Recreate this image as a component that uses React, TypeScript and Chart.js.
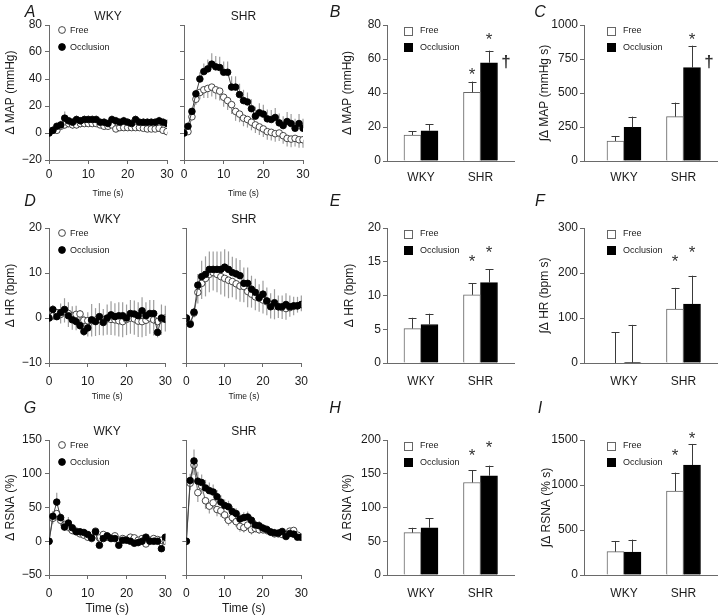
import React, { useEffect, useRef } from "react";
import { Chart, registerables } from "chart.js";

Chart.register(...registerables);

const FONT = "'Liberation Sans', Arial, Helvetica, sans-serif";
const AXIS_COLOR = "#6a6a6a";
const TEXT_COLOR = "#1a1a1a";
const ERR_GREY = "#9d9d9d";
const PAD_T = 26;
const PAD_R = 12;
const TICK_SIZE = 12;

// ---------- categories ----------
const TIME = [0, 1, 2, 3, 4, 5, 6, 7, 8, 9, 10, 11, 12, 13, 14, 15, 16, 17, 18, 19, 20, 21, 22, 23, 24, 25, 26, 27, 28, 29, 30];
const GROUPS = ["WKY", "SHR"];
const SERIES = ["Free", "Occlusion"];

// ---------- A: ΔMAP time course ----------
const MAP_WKY_FREE = [0, 2, 2, 5, 6, 7, 6, 6, 7, 7, 7, 7, 7, 6, 5, 5, 6, 3, 4, 4, 4, 4, 4, 4, 3.5, 3, 3, 3, 3.5, 2, 1];
const MAP_WKY_FREE_ERR = [0, 1, 2, 2, 3, 3, 3, 3, 3, 2, 2, 2, 2, 2, 2, 2, 2, 2, 2, 2, 2, 2, 2, 2, 2, 2, 2, 2, 2, 2, 2];
const MAP_WKY_OCC = [0, 2, 5, 6, 11, 9, 8, 10, 9, 10, 10, 10, 10, 8, 8, 7, 10, 9, 8, 9, 8, 7, 10, 8, 8, 8, 8, 8, 9, 8, 7];
const MAP_WKY_OCC_ERR = [0, 1, 2, 3, 5, 3, 3, 3, 3, 3, 3, 3, 3, 3, 3, 3, 3, 3, 3, 3, 3, 3, 3, 3, 3, 3, 3, 3, 3, 3, 3];
const MAP_SHR_FREE = [0, 1, 12, 25, 30, 32, 33, 34, 32, 31, 26.5, 24, 21, 16, 14, 11, 10, 8, 6, 4.5, 3, 1, 0.5, -0.5, 0, -2, -4, -4.5, -4, -5, -5];
const MAP_SHR_FREE_ERR = [0, 1, 2, 4, 5, 6, 7, 7, 7, 7, 7, 7, 7, 7, 6, 6, 6, 6, 6, 6, 6, 6, 6, 6, 6, 6, 6, 6, 6, 6, 6];
const MAP_SHR_OCC = [0, 5, 16, 29, 40, 45.5, 47.5, 51, 49, 48.5, 45, 45, 34, 34, 28.5, 24, 23, 18, 12.5, 15, 14, 10.5, 10, 11.5, 7.5, 5.5, 8.5, 7, 3.5, 7, 3.5];
const MAP_SHR_OCC_ERR = [0, 1, 2, 3, 5, 6, 7, 8, 8, 8, 8, 8, 8, 8, 8, 8, 7, 7, 7, 7, 7, 7, 7, 7, 7, 7, 7, 7, 7, 7, 7];

// ---------- D: ΔHR time course ----------
const HR_WKY_FREE = [0, 0.5, 1.2, 0.8, 1.5, 1.0, 0.4, 0.8, 0.9, -0.5, -0.6, -0.6, -0.5, -0.3, -0.4, -0.2, -0.3, -0.4, -0.6, -0.8, -0.3, 0, -0.2, -0.7, -0.8, -0.5, 0, -0.4, -0.8, -0.2, 0];
const HR_WKY_FREE_ERR = [0, 1, 1.5, 2, 2.5, 3, 3, 3.5, 3.5, 3.5, 3.5, 3.5, 3.5, 3.5, 3.5, 3.5, 3.5, 3.5, 3.5, 3.5, 3.5, 3.5, 3.5, 3.5, 3.5, 3.5, 3.5, 3.5, 3.5, 3.5, 3];
const HR_WKY_OCC = [0, 1.9, 0.3, 1.2, 1.9, 0.5, -0.4, -0.8, -1.7, -3.0, -2.2, -0.4, -0.8, 0.3, -1.0, 0, 0.7, 0.3, 0.5, 0.5, 0, 1.0, 0.9, 0.5, 1.6, 0.5, 1, 1, -3.2, 0, -0.3];
const HR_WKY_OCC_ERR = [0, 1, 1.5, 2, 2.5, 3, 3, 3.5, 3.5, 3.5, 3.5, 3.5, 3, 3, 3, 3, 3, 3, 3, 3, 3, 3, 3, 3, 3, 3, 3, 3, 3, 3, 3];
const HR_SHR_FREE = [0, -1.2, 1.1, 5.7, 7.7, 8.8, 9.7, 10.1, 9.7, 9.2, 8.8, 8.4, 8.1, 7.6, 7.1, 7.0, 5.9, 5.3, 4.7, 4.4, 4.0, 3.6, 2.9, 2.7, 2.5, 2.3, 2.1, 2.3, 2.6, 2.7, 3.0];
const HR_SHR_FREE_ERR = [0, 0.5, 1, 2.5, 3.5, 4, 4, 4, 4, 4, 4, 4, 3.5, 3.5, 3.5, 3.5, 3.5, 3, 3, 3, 3, 3, 3, 3, 2.5, 2.5, 2.5, 2, 2, 1.5, 1.5];
const HR_SHR_OCC = [0, -1.4, 1.3, 7.3, 9.2, 9.7, 10.8, 10.8, 10.8, 10.8, 11.3, 10.8, 10.1, 9.8, 9.4, 7.7, 7.7, 6.4, 5.7, 4.5, 5.3, 3.8, 2.5, 3.4, 2.5, 2.5, 3.0, 2.5, 2.7, 2.7, 3.0];
const HR_SHR_OCC_ERR = [0, 0.5, 1, 2.5, 3.5, 4, 4, 4, 4, 4, 4, 4, 3.5, 3.5, 3.5, 3.5, 3.5, 3, 3, 3, 3, 3, 3, 3, 2.5, 2.5, 2.5, 2.5, 2, 2, 2];

// ---------- G: ΔRSNA time course ----------
const RSNA_WKY_FREE = [0, 34, 41, 31, 24, 21, 16, 15, 11, 9, 6, 4, 15, 5, 10, 6, 5, 8, 1.5, 4, 2.5, 6, 5, 1.5, 4, -4, 1.5, 4, 2.5, 1.5, 0];
const RSNA_WKY_FREE_ERR = [0, 8, 10, 8, 8, 7, 6, 6, 5, 5, 5, 5, 4, 4, 4, 4, 4, 4, 4, 4, 4, 4, 4, 4, 4, 4, 4, 4, 4, 4, 4];
const RSNA_WKY_OCC = [0, 37, 58, 35, 21, 27, 20, 14, 14, 13, 10, 5, 14, -6, 4, 8, 4, 4, -6, 1.5, 1.5, 0, -3, -2, 0, 6, 0, 0, 0, -11, 6];
const RSNA_WKY_OCC_ERR = [0, 8, 14, 6, 6, 9, 5, 5, 5, 5, 5, 5, 5, 5, 5, 5, 5, 5, 5, 5, 5, 5, 5, 5, 5, 5, 5, 5, 5, 5, 5];
const RSNA_SHR_FREE = [0, 86, 113, 72, 82, 60, 52, 57, 47, 45, 39, 31, 35, 29, 22, 20, 24, 17, 19, 17, 17, 16, 14, 11, 11, 10, 10, 15, 16, 9, 6];
const RSNA_SHR_FREE_ERR = [0, 10, 15, 14, 12, 12, 11, 10, 10, 9, 9, 8, 8, 8, 8, 7, 7, 7, 6, 6, 6, 6, 5, 5, 5, 5, 5, 5, 4, 4, 4];
const RSNA_SHR_OCC = [0, 90, 119, 89, 87, 79, 75, 73, 66, 58, 53, 51, 44, 41, 33, 35, 36, 31, 24, 23, 19.5, 17.5, 13.5, 12.5, 12, 14.5, 7, 11.5, 10.5, 6, 6];
const RSNA_SHR_OCC_ERR = [0, 10, 17, 14, 12, 12, 12, 11, 10, 10, 9, 9, 8, 8, 8, 8, 8, 7, 7, 7, 6, 6, 6, 6, 6, 5, 5, 5, 5, 4, 4];

// ---------- bar panels (WKY, SHR) ----------
const B_FREE = [15.3, 40.4];
const B_FREE_ERR = [2.3, 6.3];
const B_OCC = [17.8, 57.8];
const B_OCC_ERR = [3.8, 7.1];

const C_FREE = [147, 326];
const C_FREE_ERR = [37, 103];
const C_OCC = [248, 686];
const C_OCC_ERR = [78, 162];

const E_FREE = [5.1, 10.1];
const E_FREE_ERR = [1.6, 1.7];
const E_OCC = [5.7, 11.9];
const E_OCC_ERR = [1.6, 2.0];

const F_FREE = [-1.5, 120];
const F_FREE_ERR = [69.5, 47];
const F_OCC = [0.7, 131];
const F_OCC_ERR = [84, 63];

const H_FREE = [62.7, 137];
const H_FREE_ERR = [7.3, 18];
const H_OCC = [70, 147];
const H_OCC_ERR = [14, 15];

const I_FREE = [259, 933];
const I_FREE_ERR = [119, 204];
const I_OCC = [256, 1222];
const I_OCC_ERR = [137, 234];

// significance marks: [group index, series index, level (data units), symbol]
const B_MARKS: [number, number, number, string][] = [[1, 0, 53.5, "*"], [1, 1, 74, "*"], [1, 1, 58.4, "†"]];
const C_MARKS: [number, number, number, string][] = [[1, 1, 926, "*"], [1, 1, 730, "†"]];
const E_MARKS: [number, number, number, string][] = [[1, 0, 15.7, "*"], [1, 1, 17.0, "*"]];
const F_MARKS: [number, number, number, string][] = [[1, 0, 235, "*"], [1, 1, 255, "*"]];
const H_MARKS: [number, number, number, string][] = [[1, 0, 184, "*"], [1, 1, 196, "*"]];
const I_MARKS: [number, number, number, string][] = [[1, 0, 1378, "*"], [1, 1, 1567, "*"]];

const BAR_W = 17;

const fmtTick = (v: number) => (v < 0 ? "\u2212" + Math.abs(v) : String(v));

const lineErrPlugin = {
  id: "lineErr",
  beforeDatasetsDraw(chart: any) {
    const { ctx } = chart;
    const xs = chart.scales.x;
    const ys = chart.scales.y;
    ctx.save();
    ctx.strokeStyle = ERR_GREY;
    ctx.lineWidth = 1.2;
    chart.data.datasets.forEach((ds: any) => {
      ds.data.forEach((pt: any, i: number) => {
        const e = ds.err[i];
        if (!e) return;
        const px = xs.getPixelForValue(pt.x);
        const py = ys.getPixelForValue(pt.y);
        const pe = ys.getPixelForValue(pt.y + ds.errDir * e);
        ctx.beginPath();
        ctx.moveTo(px, py);
        ctx.lineTo(px, pe);
        ctx.stroke();
      });
    });
    ctx.restore();
  },
};

const barErrPlugin = {
  id: "barErr",
  afterDatasetsDraw(chart: any) {
    const { ctx } = chart;
    const ys = chart.scales.y;
    ctx.save();
    ctx.strokeStyle = "#3a3a3a";
    ctx.lineWidth = 1;
    chart.data.datasets.forEach((ds: any, di: number) => {
      const meta = chart.getDatasetMeta(di);
      meta.data.forEach((el: any, i: number) => {
        const v = ds.data[i].y;
        const top = ys.getPixelForValue(v + ds.err[i]);
        const yv = ys.getPixelForValue(Math.max(v, 0));
        const x = Math.round(el.x) + 0.5;
        ctx.beginPath();
        ctx.moveTo(x, yv);
        ctx.lineTo(x, top);
        ctx.moveTo(x - 4, Math.round(top) + 0.5);
        ctx.lineTo(x + 4, Math.round(top) + 0.5);
        ctx.stroke();
      });
    });
    ctx.restore();
  },
};

const overlayPlugin = {
  id: "overlay",
  afterDraw(chart: any, _args: any, opts: any) {
    const { ctx, chartArea: ca } = chart;
    const xs = chart.scales.x;
    const ys = chart.scales.y;
    const ds = chart.data.datasets;
    ctx.save();
    if (opts.title) {
      ctx.font = `12px ${FONT}`;
      ctx.fillStyle = TEXT_COLOR;
      ctx.textAlign = "center";
      ctx.textBaseline = "middle";
      ctx.fillText(opts.title, (ca.left + ca.right) / 2, ca.top - 8);
    }
    if (opts.legend === "circle") {
      const lx = ca.left + 13;
      const rows = [ca.top + 5, ca.top + 22];
      const items = [ds[1], ds[0]];
      items.forEach((d: any, k: number) => {
        ctx.beginPath();
        ctx.arc(lx, rows[k], 3.4, 0, Math.PI * 2);
        ctx.fillStyle = d.pointBackgroundColor;
        ctx.fill();
        ctx.lineWidth = 0.9;
        ctx.strokeStyle = d.pointBorderColor;
        ctx.stroke();
        ctx.font = `9px ${FONT}`;
        ctx.fillStyle = TEXT_COLOR;
        ctx.textAlign = "left";
        ctx.textBaseline = "middle";
        ctx.fillText(d.label, lx + 8, rows[k] + 0.5);
      });
    }
    if (opts.legend === "square") {
      const sx = Math.round(xs.getPixelForValue(0) - BAR_W);
      const rows = [ca.top + 5.5, ca.top + 22];
      ds.forEach((d: any, k: number) => {
        const ty = Math.round(rows[k] - 4) + 0.5;
        ctx.fillStyle = d.backgroundColor;
        ctx.fillRect(sx + 0.5, ty, 8, 8);
        ctx.lineWidth = 1;
        ctx.strokeStyle = d.borderColor;
        ctx.strokeRect(sx + 0.5, ty, 8, 8);
        ctx.font = `9px ${FONT}`;
        ctx.fillStyle = TEXT_COLOR;
        ctx.textAlign = "left";
        ctx.textBaseline = "middle";
        ctx.fillText(d.label, sx + 16, rows[k] + 0.5);
      });
    }
    (opts.marks || []).forEach((m: [number, number, number, string]) => {
      const [g, s, lvl, sym] = m;
      const cx = xs.getPixelForValue(g) + (s === 0 ? -BAR_W / 2 : BAR_W / 2);
      const cy = ys.getPixelForValue(lvl);
      ctx.fillStyle = "#333";
      ctx.textAlign = "center";
      ctx.textBaseline = "alphabetic";
      if (sym === "*") {
        ctx.font = `17px ${FONT}`;
        ctx.fillText("*", cx, cy + 17 * 0.58);
      } else {
        ctx.font = `bold 17px ${FONT}`;
        ctx.fillText(sym, cx + BAR_W, cy + 17 * 0.3);
      }
    });
    ctx.restore();
  },
};

function ChartCanvas(props: { x0: number; y0: number; x1: number; y1: number; yW: number; xH: number; make: () => any }) {
  const { x0, y0, x1, y1, yW, xH, make } = props;
  const ref = useRef<HTMLCanvasElement | null>(null);
  const w = yW + (x1 - x0) + PAD_R;
  const h = PAD_T + (y1 - y0) + xH;
  useEffect(() => {
    if (!ref.current) return;
    const chart = new Chart(ref.current, make());
    return () => chart.destroy();
  }, []);
  return (
    <canvas
      ref={ref}
      width={w}
      height={h}
      style={{ position: "absolute", left: x0 - yW, top: y0 - PAD_T, width: w, height: h }}
    />
  );
}

interface LineSpec {
  x0: number; y0: number; x1: number; y1: number; yW: number; xH: number;
  yMin: number; yMax: number; yStep: number; yTitle: string | null; showY: boolean;
  title: string; legend: boolean;
  free: number[]; freeErr: number[]; occ: number[]; occErr: number[];
  xTickPad: number; xTitleSize: number;
}

function lineConfig(p: LineSpec) {
  const toPts = (arr: number[]) => TIME.map((t, i) => ({ x: t, y: arr[i] }));
  return {
    type: "line",
    data: {
      datasets: [
        {
          label: SERIES[1],
          data: toPts(p.occ),
          err: p.occErr,
          errDir: 1,
          borderColor: "#444",
          borderWidth: 1,
          tension: 0,
          pointRadius: 3.3,
          pointBackgroundColor: "#000",
          pointBorderColor: "#000",
          pointBorderWidth: 0.9,
        },
        {
          label: SERIES[0],
          data: toPts(p.free),
          err: p.freeErr,
          errDir: -1,
          borderColor: "#666",
          borderWidth: 1,
          tension: 0,
          pointRadius: 3.3,
          pointBackgroundColor: "#fff",
          pointBorderColor: "#333",
          pointBorderWidth: 0.9,
        },
      ],
    },
    options: {
      responsive: false,
      animation: false,
      devicePixelRatio: 1,
      events: [],
      layout: { padding: { top: PAD_T, right: PAD_R, left: 0, bottom: 0 } },
      plugins: {
        legend: { display: false },
        tooltip: { enabled: false },
        overlay: { title: p.title, legend: p.legend ? "circle" : null },
      },
      scales: {
        x: {
          type: "linear",
          min: 0,
          max: 30,
          afterFit: (s: any) => { s.height = p.xH; },
          ticks: { stepSize: 10, font: { size: TICK_SIZE, family: FONT }, color: TEXT_COLOR, padding: p.xTickPad, maxRotation: 0 },
          grid: { display: true, drawOnChartArea: false, drawTicks: true, tickLength: 4, color: AXIS_COLOR },
          border: { display: true, color: AXIS_COLOR, width: 1 },
          title: { display: true, text: "Time (s)", font: { size: p.xTitleSize, family: FONT }, color: TEXT_COLOR, padding: 0 },
        },
        y: {
          type: "linear",
          min: p.yMin,
          max: p.yMax,
          afterFit: (s: any) => { s.width = p.yW; },
          ticks: {
            stepSize: p.yStep,
            font: { size: TICK_SIZE, family: FONT },
            color: TEXT_COLOR,
            padding: 3,
            callback: (v: number) => (p.showY ? fmtTick(v) : ""),
          },
          grid: { display: true, drawOnChartArea: false, drawTicks: true, tickLength: 4, color: AXIS_COLOR },
          border: { display: true, color: AXIS_COLOR, width: 1 },
          title: { display: !!p.yTitle, text: p.yTitle || "", font: { size: 12, family: FONT }, color: TEXT_COLOR, padding: 0 },
        },
      },
    },
    plugins: [lineErrPlugin, overlayPlugin],
  };
}

interface BarSpec {
  x0: number; y0: number; x1: number; y1: number; yW: number; xH: number;
  xMin: number; xMax: number;
  yMax: number; yStep: number; yTitle: string;
  free: number[]; freeErr: number[]; occ: number[]; occErr: number[];
  marks: [number, number, number, string][];
  xTickPad: number;
}

function barConfig(p: BarSpec) {
  const toPts = (arr: number[]) => GROUPS.map((_, i) => ({ x: i, y: arr[i] }));
  return {
    type: "bar",
    data: {
      datasets: [
        { label: SERIES[0], data: toPts(p.free), err: p.freeErr, backgroundColor: "#fff", borderColor: "#666", borderWidth: 1, barThickness: BAR_W },
        { label: SERIES[1], data: toPts(p.occ), err: p.occErr, backgroundColor: "#000", borderColor: "#000", borderWidth: 1, barThickness: BAR_W },
      ],
    },
    options: {
      responsive: false,
      animation: false,
      devicePixelRatio: 1,
      events: [],
      layout: { padding: { top: PAD_T, right: PAD_R, left: 0, bottom: 0 } },
      plugins: {
        legend: { display: false },
        tooltip: { enabled: false },
        overlay: { legend: "square", marks: p.marks },
      },
      scales: {
        x: {
          type: "linear",
          offset: false,
          min: p.xMin,
          max: p.xMax,
          afterFit: (s: any) => { s.height = p.xH; },
          afterBuildTicks: (s: any) => { s.ticks = GROUPS.map((_, i) => ({ value: i })); },
          ticks: { font: { size: TICK_SIZE, family: FONT }, color: TEXT_COLOR, padding: p.xTickPad, maxRotation: 0, autoSkip: false, callback: (v: number) => GROUPS[v] ?? "" },
          grid: { display: false, drawTicks: false, offset: false },
          border: { display: true, color: AXIS_COLOR, width: 1 },
        },
        y: {
          type: "linear",
          min: 0,
          max: p.yMax,
          afterFit: (s: any) => { s.width = p.yW; },
          ticks: { stepSize: p.yStep, font: { size: TICK_SIZE, family: FONT }, color: TEXT_COLOR, padding: 2, callback: (v: number) => fmtTick(v) },
          grid: { display: true, drawOnChartArea: false, drawTicks: true, tickLength: 4, color: AXIS_COLOR },
          border: { display: true, color: AXIS_COLOR, width: 1 },
          title: { display: true, text: p.yTitle, font: { size: 12, family: FONT }, color: TEXT_COLOR, padding: 0 },
        },
      },
    },
    plugins: [barErrPlugin, overlayPlugin],
  };
}

function LinePanel({ spec }: { spec: LineSpec }) {
  return <ChartCanvas x0={spec.x0} y0={spec.y0} x1={spec.x1} y1={spec.y1} yW={spec.yW} xH={spec.xH} make={() => lineConfig(spec)} />;
}
function BarPanel({ spec }: { spec: BarSpec }) {
  return <ChartCanvas x0={spec.x0} y0={spec.y0} x1={spec.x1} y1={spec.y1} yW={spec.yW} xH={spec.xH} make={() => barConfig(spec)} />;
}

const ROWS = [
  { top: 25, lineBottom: 160, barBottom: 161, xH: 39, xTickPad: 3, xTitle: 8.5, barPad: 9 },
  { top: 228, lineBottom: 363, barBottom: 363, xH: 39, xTickPad: 7, xTitle: 8.5, barPad: 11 },
  { top: 440, lineBottom: 575, barBottom: 575, xH: 41, xTickPad: 7, xTitle: 12, barPad: 11 },
];

const LINE_PANELS: LineSpec[] = [
  // Row A
  { x0: 49, y0: ROWS[0].top, x1: 167, y1: ROWS[0].lineBottom, yW: 46, xH: ROWS[0].xH, yMin: -20, yMax: 80, yStep: 20, yTitle: "\u0394 MAP (mmHg)", showY: true, title: "WKY", legend: true, free: MAP_WKY_FREE, freeErr: MAP_WKY_FREE_ERR, occ: MAP_WKY_OCC, occErr: MAP_WKY_OCC_ERR, xTickPad: ROWS[0].xTickPad, xTitleSize: ROWS[0].xTitle },
  { x0: 184, y0: ROWS[0].top, x1: 303, y1: ROWS[0].lineBottom, yW: 8, xH: ROWS[0].xH, yMin: -20, yMax: 80, yStep: 20, yTitle: null, showY: false, title: "SHR", legend: false, free: MAP_SHR_FREE, freeErr: MAP_SHR_FREE_ERR, occ: MAP_SHR_OCC, occErr: MAP_SHR_OCC_ERR, xTickPad: ROWS[0].xTickPad, xTitleSize: ROWS[0].xTitle },
  // Row D
  { x0: 49, y0: ROWS[1].top, x1: 167, y1: ROWS[1].lineBottom, yW: 46, xH: ROWS[1].xH, yMin: -10, yMax: 20, yStep: 10, yTitle: "\u0394 HR (bpm)", showY: true, title: "WKY", legend: true, free: HR_WKY_FREE, freeErr: HR_WKY_FREE_ERR, occ: HR_WKY_OCC, occErr: HR_WKY_OCC_ERR, xTickPad: ROWS[1].xTickPad, xTitleSize: ROWS[1].xTitle },
  { x0: 184, y0: ROWS[1].top, x1: 303, y1: ROWS[1].lineBottom, yW: 8, xH: ROWS[1].xH, yMin: -10, yMax: 20, yStep: 10, yTitle: null, showY: false, title: "SHR", legend: false, free: HR_SHR_FREE, freeErr: HR_SHR_FREE_ERR, occ: HR_SHR_OCC, occErr: HR_SHR_OCC_ERR, xTickPad: ROWS[1].xTickPad, xTitleSize: ROWS[1].xTitle },
  // Row G
  { x0: 49, y0: ROWS[2].top, x1: 167, y1: ROWS[2].lineBottom, yW: 46, xH: ROWS[2].xH, yMin: -50, yMax: 150, yStep: 50, yTitle: "\u0394 RSNA (%)", showY: true, title: "WKY", legend: true, free: RSNA_WKY_FREE, freeErr: RSNA_WKY_FREE_ERR, occ: RSNA_WKY_OCC, occErr: RSNA_WKY_OCC_ERR, xTickPad: ROWS[2].xTickPad, xTitleSize: ROWS[2].xTitle },
  { x0: 184, y0: ROWS[2].top, x1: 303, y1: ROWS[2].lineBottom, yW: 8, xH: ROWS[2].xH, yMin: -50, yMax: 150, yStep: 50, yTitle: null, showY: false, title: "SHR", legend: false, free: RSNA_SHR_FREE, freeErr: RSNA_SHR_FREE_ERR, occ: RSNA_SHR_OCC, occErr: RSNA_SHR_OCC_ERR, xTickPad: ROWS[2].xTickPad, xTitleSize: ROWS[2].xTitle },
];

const MID_X = { x0: 387, x1: 514, xMin: -0.571, xMax: 1.563 };
const RIGHT_X = { x0: 584, x1: 717, xMin: -0.672, xMax: 1.563 };

const BAR_PANELS: BarSpec[] = [
  { ...MID_X, y0: ROWS[0].top, y1: ROWS[0].barBottom, yW: 47, xH: 32, yMax: 80, yStep: 20, yTitle: "\u0394 MAP (mmHg)", free: B_FREE, freeErr: B_FREE_ERR, occ: B_OCC, occErr: B_OCC_ERR, marks: B_MARKS, xTickPad: ROWS[0].barPad },
  { ...RIGHT_X, y0: ROWS[0].top, y1: ROWS[0].barBottom, yW: 47, xH: 32, yMax: 1000, yStep: 250, yTitle: "\u222B\u0394 MAP (mmHg s)", free: C_FREE, freeErr: C_FREE_ERR, occ: C_OCC, occErr: C_OCC_ERR, marks: C_MARKS, xTickPad: ROWS[0].barPad },
  { ...MID_X, y0: ROWS[1].top, y1: ROWS[1].barBottom, yW: 45, xH: 32, yMax: 20, yStep: 5, yTitle: "\u0394 HR (bpm)", free: E_FREE, freeErr: E_FREE_ERR, occ: E_OCC, occErr: E_OCC_ERR, marks: E_MARKS, xTickPad: ROWS[1].barPad },
  { ...RIGHT_X, y0: ROWS[1].top, y1: ROWS[1].barBottom, yW: 47, xH: 32, yMax: 300, yStep: 100, yTitle: "\u222B\u0394 HR (bpm s)", free: F_FREE, freeErr: F_FREE_ERR, occ: F_OCC, occErr: F_OCC_ERR, marks: F_MARKS, xTickPad: ROWS[1].barPad },
  { ...MID_X, y0: ROWS[2].top, y1: ROWS[2].barBottom, yW: 47, xH: 32, yMax: 200, yStep: 50, yTitle: "\u0394 RSNA (%)", free: H_FREE, freeErr: H_FREE_ERR, occ: H_OCC, occErr: H_OCC_ERR, marks: H_MARKS, xTickPad: ROWS[2].barPad },
  { ...RIGHT_X, y0: ROWS[2].top, y1: ROWS[2].barBottom, yW: 45, xH: 32, yMax: 1500, yStep: 500, yTitle: "\u222B\u0394 RSNA (% s)", free: I_FREE, freeErr: I_FREE_ERR, occ: I_OCC, occErr: I_OCC_ERR, marks: I_MARKS, xTickPad: ROWS[2].barPad },
];

const LETTERS: [string, number, number][] = [
  ["A", 30, 12], ["B", 335, 12], ["C", 540, 12],
  ["D", 30, 201], ["E", 335, 201], ["F", 540, 201],
  ["G", 30, 408], ["H", 335, 408], ["I", 540, 408],
];

export default function App() {
  return (
    <div style={{ position: "fixed", left: 0, top: 0, width: 720, height: 616, background: "#fff", overflow: "hidden" }}>
      {LINE_PANELS.map((s, i) => <LinePanel key={"l" + i} spec={s} />)}
      {BAR_PANELS.map((s, i) => <BarPanel key={"b" + i} spec={s} />)}
      {LETTERS.map(([t, x, y]) => (
        <div
          key={t}
          style={{ position: "absolute", left: x - 10, top: y - 10, width: 20, height: 20, lineHeight: "20px", textAlign: "center", fontFamily: FONT, fontStyle: "italic", fontSize: 16, color: TEXT_COLOR }}
        >
          {t}
        </div>
      ))}
    </div>
  );
}
